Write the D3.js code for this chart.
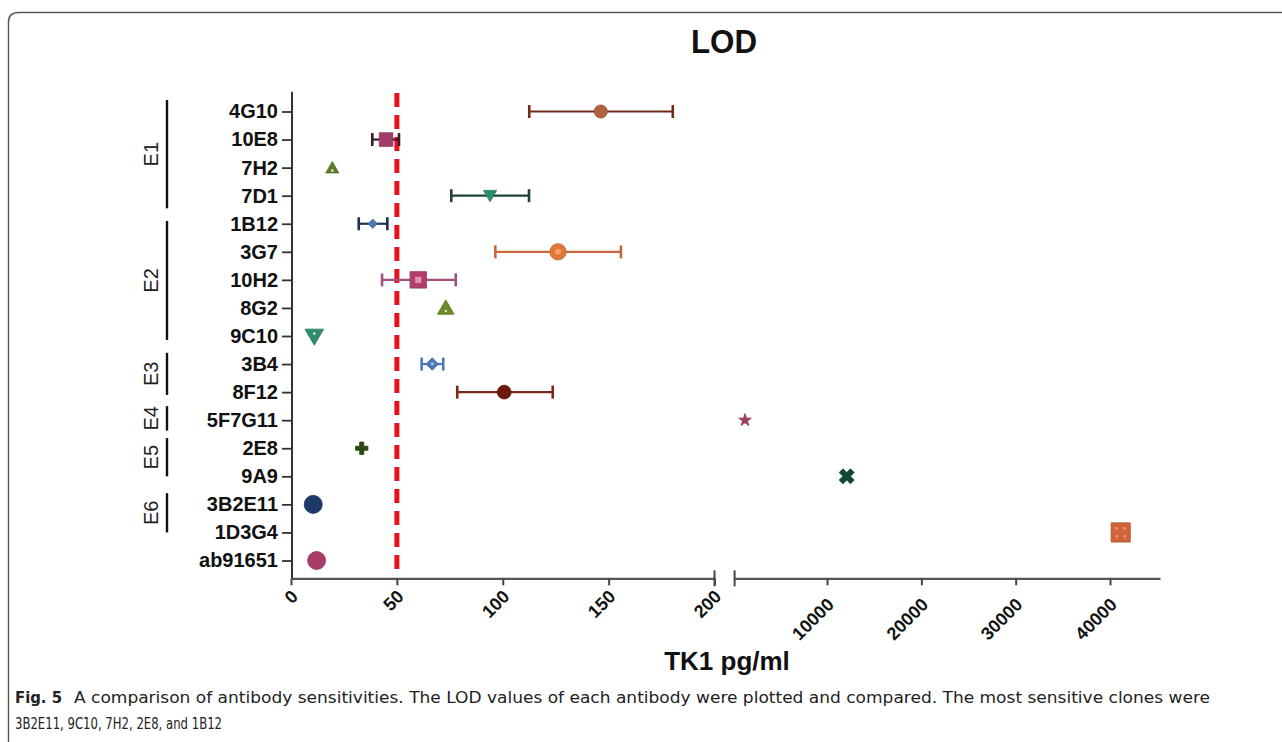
<!DOCTYPE html>
<html><head><meta charset="utf-8">
<script src="https://cdn.jsdelivr.net/npm/d3@7"></script>
<style>
html,body{margin:0;padding:0;background:#fff;}
svg{display:block;}
</style></head>
<body>
<svg id="chart" width="1282" height="742"></svg>
<script>
// ---------- data ----------
const categories = ["4G10","10E8","7H2","7D1","1B12","3G7","10H2","8G2","9C10","3B4","8F12","5F7G11","2E8","9A9","3B2E11","1D3G4","ab91651"];
const lodValues  = [146.3, 44.9, 19.5, 94.0, 38.6, 126.1, 60.1, 73.1, 11.0, 66.7, 100.7, 1303, 33.4, 12085, 10.5, 41135, 12.1];
const errLow     = [112.5, 38.4, null, 75.7, 32.0, 96.5, 43.0, null, null, 61.7, 78.5, null, null, null, null, null, null];
const errHigh    = [180.3, 51.0, null, 112.4, 45.5, 155.8, 77.8, null, null, 71.9, 123.6, null, null, null, null, null, null];
const xTicksLow  = [0, 50, 100, 150, 200];
const xTicksHigh = [10000, 20000, 30000, 40000];
const lodThreshold = 50;
const groupNames = ["E1","E2","E3","E4","E5","E6"];
const groupStart = [-0.41, 3.9, 8.6, 10.5, 11.64, 13.6];   // in row units
const groupEnd   = [3.45, 8.14, 10.1, 11.37, 13.0, 15.0];

// ---------- styles ----------
const markerShape = ["circle","square","triangle","triangleDown","diamond","circle","square","triangle","triangleDown","diamond","circle","star","cross","x","circle","square","circle"];
const markerSize  = [135, 185, 75, 75, 55, 210, 270, 120, 150, 100, 150, 50, 85, 140, 255, 370, 255];
const markerColor = ["#b2603e","#a23b68","#5e7d28","#2e8c6a","#4a78b8","#e0773a","#b03e6a","#6a8a2a","#2e8c6a","#4a78b8","#6e1a08","#a03a60","#2a4a10","#0e4a30","#1e3a6a","#d0643a","#a83c68"];
const markerInner = [null,null,"#dfe6c8",null,null,"#f5a060","#e890b0","#dfe6c8","#e6f3ee","#a8c4ea",null,null,null,null,null,"#f09060",null];
const barColor    = ["#6e2a1c","#3b1a2e",null,"#1d4434","#1e3050","#c8683a","#a0507a",null,null,"#4a78b8","#7a2818",null,null,null,null,null,null];

// ---------- layout ----------
const svg = d3.select("#chart");
const axisY0 = 578.3, axisTop = 91.7;
const x1 = d3.scaleLinear().domain([0, 200]).range([291, 714.5]);
const x2 = d3.scaleLinear().domain([200, 45300]).range([734.6, 1160]);
const xPos = v => v <= 200 ? x1(v) : x2(v);
const y = d3.scalePoint().domain(categories).range([111.5, 560.5]);
const step = y.step();
const yRow = r => y(categories[0]) + r * step;
const mainFont = "Liberation Sans, Arial, sans-serif";

// frame
svg.append("path").attr("d","M8.5,742 V22 Q8.5,12.5 18.5,12.5 H1282")
  .attr("fill","none").attr("stroke","#555").attr("stroke-width",1.4);

// title
svg.append("text").attr("x",724).attr("y",53).attr("text-anchor","middle")
  .attr("font-family",mainFont).attr("font-weight","bold")
  .attr("font-size",34).attr("textLength",66).attr("lengthAdjust","spacingAndGlyphs")
  .attr("fill","#111").text("LOD");

// threshold dashed line
svg.append("line").attr("x1",x1(lodThreshold)).attr("x2",x1(lodThreshold))
  .attr("y1",93).attr("y2",axisY0-2)
  .attr("stroke","#e8101a").attr("stroke-width",5).attr("stroke-dasharray","14,8");

// y axis
const yAxis = d3.axisLeft(y).tickSize(10).tickPadding(4).tickSizeOuter(0);
const gy = svg.append("g").attr("transform","translate(292,0)").call(yAxis);
gy.select(".domain").remove();
gy.selectAll(".tick line").attr("stroke","#333").attr("stroke-width",1.8);
gy.selectAll(".tick text").attr("font-family",mainFont)
  .attr("font-weight","bold").attr("font-size",20).attr("fill","#111");
svg.append("line").attr("x1",292).attr("x2",292).attr("y1",axisTop).attr("y2",axisY0)
  .attr("stroke","#333").attr("stroke-width",2);

// x axes
function styleX(g, off){
  g.select(".domain").attr("stroke","#555").attr("stroke-width",2.2);
  g.selectAll(".tick line").attr("stroke","#444").attr("stroke-width",2);
  g.selectAll(".tick text")
    .attr("font-family",mainFont).attr("font-weight","bold")
    .attr("font-size",18).attr("fill","#111")
    .attr("x",0).attr("y",0)
    .attr("text-anchor","end").attr("dy","0.35em")
    .attr("transform",`translate(3,${off}) rotate(-45)`);
}
const gx1 = svg.append("g").attr("transform",`translate(0,${axisY0})`)
  .call(d3.axisBottom(x1).tickValues(xTicksLow).tickSize(7).tickSizeOuter(0).tickPadding(0));
styleX(gx1, 15);
const gx2 = svg.append("g").attr("transform",`translate(0,${axisY0})`)
  .call(d3.axisBottom(x2).tickValues(xTicksHigh).tickFormat(d3.format("d")).tickSize(7).tickSizeOuter(0).tickPadding(0));
styleX(gx2, 23);
// break caps
[x1(200), x2(200)].forEach(xx=>{
  svg.append("line").attr("x1",xx).attr("x2",xx).attr("y1",axisY0-8).attr("y2",axisY0+8)
    .attr("stroke","#444").attr("stroke-width",2);
});
svg.append("text").attr("x",727).attr("y",670).attr("text-anchor","middle")
  .attr("font-family",mainFont).attr("font-weight","bold")
  .attr("font-size",26).attr("fill","#111").text("TK1 pg/ml");

// group brackets
groupNames.forEach((g,i)=>{
  const ya = yRow(groupStart[i]), yb = yRow(groupEnd[i]);
  svg.append("line").attr("x1",167).attr("x2",167).attr("y1",ya).attr("y2",yb)
    .attr("stroke","#111").attr("stroke-width",2.4);
  const ym = (ya+yb)/2;
  svg.append("text").attr("transform",`translate(158,${ym}) rotate(-90)`)
    .attr("text-anchor","middle")
    .attr("font-family",mainFont).attr("font-size",20)
    .attr("fill","#222").text(g);
});

// error bars
const capH = 6.5;
categories.forEach((c,i)=>{
  if(errLow[i]==null) return;
  const yy = y(c), xa = xPos(errLow[i]), xb = xPos(errHigh[i]);
  const g = svg.append("g").attr("stroke",barColor[i]).attr("stroke-width",2.2);
  g.append("line").attr("x1",xa).attr("x2",xb).attr("y1",yy).attr("y2",yy);
  g.append("line").attr("x1",xa).attr("x2",xa).attr("y1",yy-capH).attr("y2",yy+capH).attr("stroke-width",2.6);
  g.append("line").attr("x1",xb).attr("x2",xb).attr("y1",yy-capH).attr("y2",yy+capH).attr("stroke-width",2.6);
});

// markers
const symType = {circle:d3.symbolCircle, square:d3.symbolSquare, triangle:d3.symbolTriangle,
  triangleDown:d3.symbolTriangle, diamond:d3.symbolDiamond2, cross:d3.symbolCross, x:d3.symbolCross, star:d3.symbolStar};
const symRot = {triangleDown:180, x:45};
categories.forEach((c,i)=>{
  const cx = xPos(lodValues[i]), cy = y(c), sh = markerShape[i];
  const rot = symRot[sh] || 0;
  const dy = sh==="triangle" ? 1.5 : (sh==="triangleDown" ? -1.5 : 0);
  svg.append("path")
    .attr("d", d3.symbol().type(symType[sh]).size(markerSize[i])())
    .attr("transform",`translate(${cx},${cy+dy}) rotate(${rot})`)
    .attr("fill",markerColor[i]).attr("stroke",d3.color(markerColor[i]).darker(0.4)).attr("stroke-width",0.8);
  if(markerInner[i]){
    let innerSize = markerSize[i]*0.14;
    if(sh==="triangle"||sh==="triangleDown") innerSize = 5;
    if(sh==="diamond") innerSize = 7;
    if(sh==="square" && c==="1D3G4"){
      [[-4,-4],[4,-4],[-4,4],[4,4]].forEach(([ox,oy])=>{
        svg.append("rect").attr("x",cx+ox-1.3).attr("y",cy+oy-1.3).attr("width",2.6).attr("height",2.6)
          .attr("fill",markerInner[i]);
      });
    } else {
      const t = sh==="square" ? d3.symbolSquare : d3.symbolCircle;
      const oy = sh==="triangle" ? 3 : (sh==="triangleDown" ? -2.5 : 0);
      svg.append("path").attr("d", d3.symbol().type(t).size(innerSize)())
        .attr("transform",`translate(${cx},${cy+oy})`).attr("fill",markerInner[i]);
    }
  }
});

// caption
const capFont = "DejaVu Sans Condensed, DejaVu Sans, sans-serif";
function capText(x, yy, txt, len, bold){
  svg.append("text").attr("x",x).attr("y",yy).attr("font-family",capFont)
    .attr("font-stretch","condensed")
    .attr("font-weight",bold?"bold":"normal").attr("font-size",16.5).attr("fill","#222")
    .attr("textLength",len).attr("lengthAdjust","spacingAndGlyphs").text(txt);
}
capText(15, 703, "Fig. 5", 47, true);
capText(74, 703, "A comparison of antibody sensitivities. The LOD values of each antibody were plotted and compared. The most sensitive clones were", 1136, false);
capText(15, 729, "3B2E11, 9C10, 7H2, 2E8, and 1B12", 207, false);
</script>
</body></html>
